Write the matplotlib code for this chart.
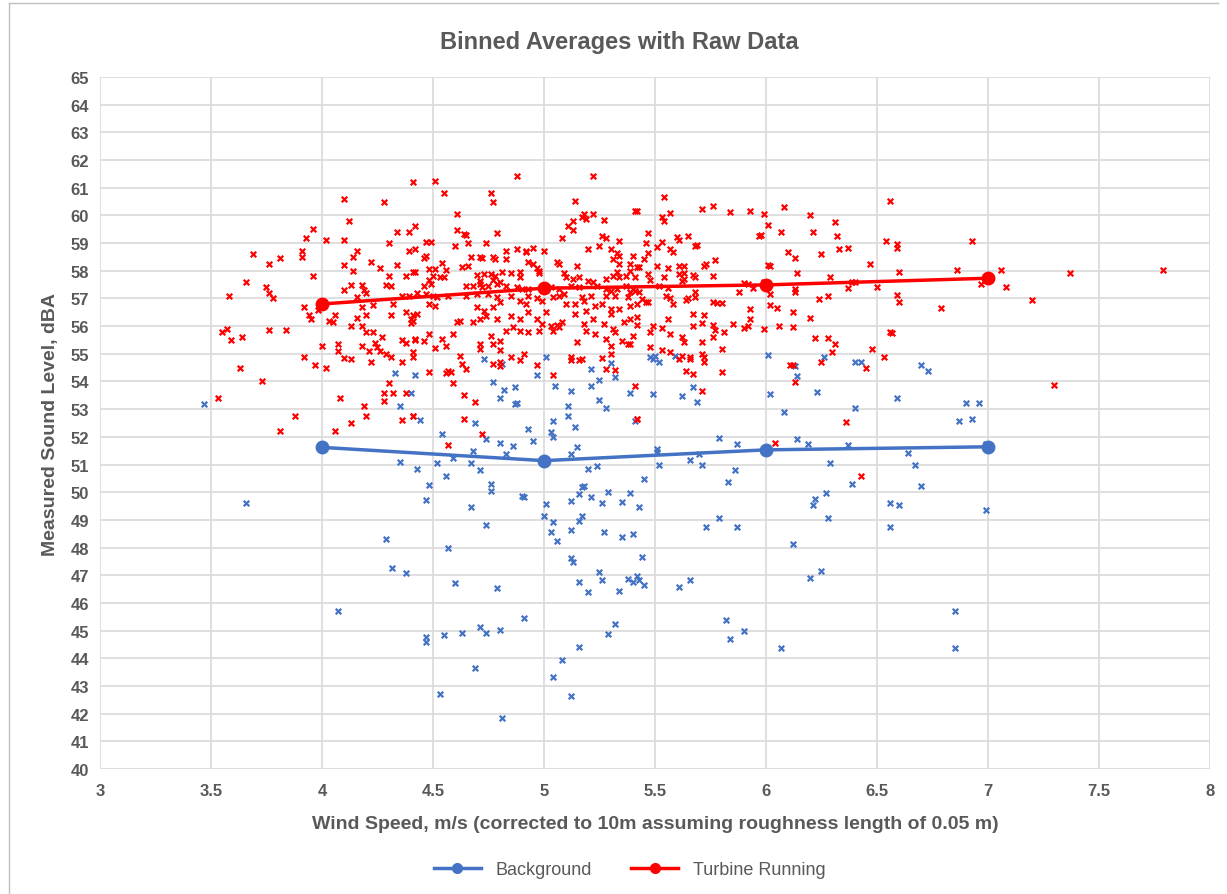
import matplotlib

matplotlib.use("Agg")
import matplotlib.pyplot as plt
from matplotlib.lines import Line2D
from matplotlib.ticker import FuncFormatter, MultipleLocator

plt.rcParams["font.family"] = ["Liberation Sans", "DejaVu Sans"]

# binned averages
bin_speed = [4, 5, 6, 7]
background_avg = [51.62, 51.14, 51.53, 51.64]
turbine_avg = [56.80, 57.37, 57.49, 57.73]

# raw readings (wind speed, dBA)
background_raw = [
    (3.47, 53.2), (4.33, 54.3), (4.42, 54.25), (4.4, 53.6), (4.35, 53.1), (4.44, 52.6),
    (4.35, 51.1), (4.43, 50.85), (3.66, 49.6), (4.29, 48.3), (4.54, 52.1), (4.48, 50.26),
    (4.47, 49.73), (4.52, 51.05), (4.59, 51.22), (4.56, 50.57), (4.68, 51.5), (4.67, 51.05),
    (4.71, 50.8), (4.77, 53.97), (4.82, 53.7), (4.8, 53.39), (4.87, 53.79), (4.88, 53.24),
    (4.87, 53.2), (4.74, 51.92), (4.8, 51.78), (4.86, 51.66), (4.83, 51.38), (4.69, 52.49),
    (4.76, 50.3), (4.76, 50.05), (4.9, 49.87), (4.91, 49.84), (4.67, 49.45), (4.74, 48.81),
    (4.57, 48.0), (4.93, 52.3), (4.95, 51.86), (4.97, 54.23), (5.05, 53.85), (5.03, 52.18),
    (5.04, 52.0), (5.04, 52.58), (5.11, 53.12), (5.11, 52.74), (5.14, 52.37), (5.12, 53.67),
    (5.21, 54.45), (5.21, 53.82), (5.25, 54.06), (5.3, 54.67), (5.32, 54.18), (5.25, 53.34),
    (5.28, 53.03), (5.39, 53.57), (5.41, 52.58), (5.15, 51.62), (5.12, 51.38), (5.2, 50.84),
    (5.24, 50.93), (5.01, 49.57), (5.0, 49.15), (5.04, 48.91), (5.03, 48.57), (5.06, 48.25),
    (5.12, 49.69), (5.16, 49.93), (5.17, 50.17), (5.18, 50.21), (5.21, 49.81), (5.17, 49.15),
    (5.16, 48.97), (5.12, 48.63), (5.26, 49.6), (5.29, 50.02), (5.35, 49.63), (5.39, 49.96),
    (5.43, 49.48), (5.27, 48.57), (5.35, 48.37), (5.4, 48.49), (5.52, 54.69), (5.49, 54.81),
    (5.49, 53.55), (5.62, 53.49), (5.67, 53.79), (5.69, 53.27), (5.51, 51.56), (5.51, 51.46),
    (5.52, 50.98), (5.66, 51.16), (5.7, 51.38), (5.71, 50.98), (5.79, 51.96), (5.87, 51.74),
    (5.86, 50.8), (5.83, 50.38), (5.45, 50.47), (5.73, 48.76), (5.79, 49.05), (5.87, 48.73),
    (6.02, 53.55), (6.08, 52.88), (6.13, 54.57), (6.14, 54.21), (6.23, 53.61), (6.14, 51.94),
    (6.19, 51.74), (6.29, 51.05), (6.37, 51.7), (6.39, 50.29), (6.4, 53.04), (6.21, 49.54),
    (6.22, 49.75), (6.27, 49.96), (6.28, 49.05), (6.12, 48.13), (6.4, 54.69), (6.43, 54.69),
    (6.7, 54.59), (6.73, 54.39), (6.59, 53.41), (6.9, 53.21), (6.96, 53.21), (6.87, 52.58),
    (6.93, 52.64), (6.99, 51.74), (6.64, 51.4), (6.67, 50.98), (6.7, 50.21), (6.56, 49.61),
    (6.6, 49.54), (6.99, 49.37), (6.56, 48.75), (5.48, 54.88), (5.5, 54.93), (5.59, 54.93),
    (6.01, 54.96), (6.26, 54.88), (4.73, 54.8), (4.81, 54.63), (5.01, 54.9), (4.315, 47.26),
    (4.38, 47.07), (4.07, 45.69), (4.6, 46.72), (4.79, 46.55), (4.47, 44.76), (4.47, 44.58),
    (4.55, 44.84), (4.63, 44.92), (4.71, 45.14), (4.74, 44.92), (4.8, 45.02), (4.91, 45.45),
    (4.69, 43.64), (4.53, 42.71), (4.81, 41.83), (5.12, 47.62), (5.13, 47.47), (5.16, 46.75),
    (5.2, 46.38), (5.25, 47.13), (5.26, 46.84), (5.34, 46.44), (5.38, 46.87), (5.4, 46.75),
    (5.42, 46.99), (5.43, 46.81), (5.44, 47.65), (5.32, 45.24), (5.29, 44.88), (5.16, 44.4),
    (5.08, 43.92), (5.04, 43.34), (5.12, 42.62), (5.45, 46.63), (5.61, 46.59), (5.66, 46.81),
    (5.82, 45.4), (5.84, 44.7), (5.9, 45.0), (6.07, 44.36), (6.2, 46.9), (6.25, 47.14),
    (6.85, 45.69), (6.85, 44.36),
]

turbine_raw = [
    # 3.5 - 4.45
    (3.58, 57.09), (3.69, 58.6), (3.76, 58.24), (3.81, 58.46), (3.66, 57.6), (3.75, 57.4),
    (3.76, 57.2), (3.78, 57.0), (3.55, 55.8), (3.57, 55.9), (3.59, 55.5), (3.64, 55.6),
    (3.76, 55.86), (3.84, 55.86), (3.63, 54.5), (3.91, 58.5), (3.91, 58.7), (3.93, 59.2),
    (3.96, 59.5), (3.96, 57.8), (3.92, 56.7), (3.94, 56.4), (3.95, 56.25), (3.92, 54.9),
    (3.97, 54.6), (3.98, 56.6), (4.02, 59.1), (4.1, 60.6), (4.28, 60.5), (4.41, 61.2),
    (4.12, 59.8), (4.1, 59.1), (4.16, 58.7), (4.14, 58.5), (4.1, 58.2), (4.14, 58.0),
    (4.22, 58.3), (4.26, 58.1), (4.3, 59.0), (4.34, 59.4), (4.39, 59.4), (4.42, 59.6),
    (4.34, 58.2), (4.39, 58.7), (4.42, 58.8), (4.3, 57.8), (4.29, 57.5), (4.31, 57.45),
    (4.38, 57.8), (4.42, 57.95), (4.1, 57.3), (4.13, 57.5), (4.18, 57.5), (4.19, 57.3),
    (4.16, 57.05), (4.2, 57.2), (4.18, 56.7), (4.23, 56.75), (4.32, 56.8), (4.36, 57.1),
    (4.39, 57.1), (4.43, 57.2), (4.03, 56.2), (4.05, 56.15), (4.06, 56.4), (4.13, 56.0),
    (4.16, 56.3), (4.2, 56.4), (4.18, 56.0), (4.2, 55.8), (4.23, 55.8), (4.31, 56.4),
    (4.38, 56.5), (4.41, 56.4), (4.4, 56.1), (4.41, 56.2), (4.07, 55.35), (4.07, 55.1),
    (4.0, 55.3), (4.18, 55.3), (4.21, 55.1), (4.24, 55.4), (4.25, 55.25), (4.27, 55.6),
    (4.26, 55.1), (4.29, 55.0), (4.31, 54.9), (4.36, 55.5), (4.38, 55.4), (4.42, 55.5),
    (4.41, 55.05), (4.41, 54.9), (4.36, 54.7), (4.1, 54.85), (4.13, 54.8), (4.22, 54.7),
    (4.02, 54.5), (3.73, 54.0), (3.53, 53.4), (3.88, 52.75), (3.81, 52.2), (4.08, 53.4),
    (4.06, 52.2), (4.13, 52.5), (4.19, 53.1), (4.2, 52.75), (4.28, 53.6), (4.32, 53.6),
    (4.28, 53.3), (4.3, 53.95), (4.36, 52.6), (4.38, 53.6), (4.41, 52.75),
    # 4.4 - 5.45
    (4.51, 61.26), (4.88, 61.41), (5.22, 61.41), (4.55, 60.8), (4.76, 60.8), (4.77, 60.47),
    (5.14, 60.51), (5.41, 60.15), (4.61, 60.05), (5.11, 59.6), (5.13, 59.8), (5.17, 59.93),
    (5.18, 60.05), (5.19, 59.87), (5.22, 60.05), (5.27, 59.83), (5.13, 59.47), (4.61, 59.47),
    (4.64, 59.33), (4.65, 59.3), (4.79, 59.35), (5.08, 59.18), (5.26, 59.24), (5.28, 59.17),
    (5.34, 59.06), (4.47, 59.05), (4.49, 59.05), (4.6, 58.88), (4.66, 59.0), (4.74, 58.99),
    (4.83, 58.73), (4.88, 58.79), (4.92, 58.73), (4.95, 58.82), (5.0, 58.73), (5.2, 58.79),
    (5.25, 58.91), (5.3, 58.79), (5.33, 58.64), (5.34, 58.55), (5.31, 58.43), (5.4, 58.55),
    (4.46, 58.45), (4.47, 58.52), (4.67, 58.49), (4.71, 58.49), (4.72, 58.45), (4.77, 58.49),
    (4.78, 58.43), (4.83, 58.43), (4.92, 58.67), (4.93, 58.33), (4.95, 58.25), (4.97, 58.09),
    (4.98, 58.0), (4.98, 57.92), (5.06, 58.3), (5.07, 58.25), (5.15, 58.16), (5.34, 58.25),
    (5.33, 57.97), (5.39, 58.25), (5.43, 58.12), (4.41, 57.97), (4.48, 58.06), (4.51, 58.06),
    (4.54, 58.28), (4.56, 58.04), (4.63, 58.12), (4.66, 58.16), (4.7, 57.85), (4.73, 57.88),
    (4.76, 57.88), (4.78, 57.82), (4.81, 57.97), (4.85, 57.92), (4.89, 57.97), (4.48, 57.68),
    (4.5, 57.82), (4.53, 57.79), (4.55, 57.79), (4.71, 57.64), (4.77, 57.68), (4.8, 57.58),
    (4.89, 57.76), (5.09, 57.92), (5.1, 57.76), (5.13, 57.7), (5.16, 57.76), (5.2, 57.64),
    (5.22, 57.61), (5.28, 57.7), (5.31, 57.82), (5.34, 57.76), (5.37, 57.82), (5.39, 58.0),
    (4.46, 57.46), (4.49, 57.52), (4.65, 57.46), (4.68, 57.46), (4.71, 57.52), (4.72, 57.4),
    (4.75, 57.46), (4.79, 57.52), (4.83, 57.46), (4.88, 57.4), (4.9, 57.34), (4.93, 57.34),
    (5.03, 57.4), (5.07, 57.34), (5.12, 57.46), (5.16, 57.4), (5.24, 57.46), (5.28, 57.34),
    (5.3, 57.28), (5.33, 57.34), (5.37, 57.46), (5.4, 57.34), (5.43, 57.22), (4.47, 57.16),
    (4.5, 57.1), (4.52, 57.04), (4.57, 57.1), (4.65, 57.1), (4.7, 57.16), (4.75, 57.16),
    (4.79, 57.04), (4.85, 57.1), (4.93, 57.1), (4.97, 57.0), (5.04, 57.04), (5.07, 57.1),
    (5.09, 57.16), (5.17, 57.04), (5.21, 57.1), (5.28, 57.1), (5.32, 57.1), (5.38, 57.04),
    (4.48, 56.8), (4.51, 56.74), (4.43, 56.44), (4.4, 56.26), (4.7, 56.68), (4.73, 56.56),
    (4.77, 56.68), (4.8, 56.86), (4.89, 56.92), (4.92, 56.8), (4.99, 56.92), (5.01, 56.52),
    (5.1, 56.8), (5.14, 56.8), (5.18, 56.92), (5.19, 56.56), (5.23, 56.74), (5.26, 56.8),
    (5.3, 56.62), (5.34, 56.62), (5.39, 56.74), (5.42, 56.8), (4.61, 56.16), (4.62, 56.2),
    (4.68, 56.16), (4.71, 56.26), (4.74, 56.38), (4.79, 56.26), (4.85, 56.38), (4.89, 56.26),
    (4.93, 56.5), (4.97, 56.26), (4.99, 56.08), (5.03, 56.02), (5.06, 56.04), (5.08, 56.16),
    (5.14, 56.44), (5.18, 56.08), (5.22, 56.26), (5.27, 56.08), (5.3, 56.44), (5.31, 55.9),
    (5.36, 56.14), (5.39, 56.26), (5.42, 56.04), (4.48, 55.72), (4.54, 55.54), (4.59, 55.72),
    (4.42, 55.54), (4.46, 55.48), (4.51, 55.2), (4.56, 55.3), (4.76, 55.66), (4.8, 55.48),
    (4.83, 55.84), (4.86, 55.96), (4.89, 55.84), (4.93, 55.78), (4.98, 55.84), (5.04, 55.84),
    (5.07, 55.96), (5.15, 55.44), (5.19, 55.84), (5.23, 55.72), (5.28, 55.54), (5.3, 55.3),
    (5.32, 55.78), (5.35, 55.48), (5.38, 55.36), (5.4, 55.66), (4.71, 55.36), (4.71, 55.18),
    (4.77, 55.36), (4.8, 55.12), (4.62, 54.93), (4.8, 54.69), (4.85, 54.87), (4.91, 54.99),
    (4.97, 54.6), (5.12, 54.87), (5.17, 54.81), (5.26, 54.84), (5.3, 54.99), (4.48, 54.35),
    (4.57, 54.39), (4.58, 54.33), (4.56, 54.3), (4.63, 54.63), (4.65, 54.45), (4.59, 53.94),
    (4.64, 53.52), (4.69, 53.27), (4.41, 52.74), (4.64, 52.64), (4.72, 52.1), (4.57, 51.7),
    (4.77, 54.63), (4.8, 54.57), (4.89, 54.79), (5.04, 54.23), (5.28, 54.45), (5.32, 54.42),
    (5.42, 52.64), (5.12, 54.79), (5.16, 54.79),
    # 5.4 - 6.45
    (5.54, 60.65), (5.42, 60.17), (5.71, 60.23), (5.76, 60.33), (5.84, 60.11), (5.93, 60.17),
    (5.99, 60.05), (6.08, 60.29), (6.2, 60.03), (6.31, 59.77), (5.53, 59.96), (5.54, 59.81),
    (5.57, 60.08), (6.01, 59.67), (5.47, 59.35), (5.46, 59.0), (5.53, 59.03), (5.51, 58.85),
    (5.6, 59.21), (5.61, 59.12), (5.65, 59.24), (5.97, 59.24), (5.98, 59.29), (6.07, 59.39),
    (6.21, 59.39), (6.32, 59.24), (5.68, 58.91), (5.69, 58.93), (5.57, 58.79), (5.58, 58.69),
    (5.47, 58.64), (5.45, 58.43), (5.72, 58.16), (5.73, 58.25), (5.77, 58.39), (6.1, 58.69),
    (6.13, 58.45), (6.25, 58.61), (6.33, 58.79), (6.37, 58.81), (5.42, 58.12), (5.51, 58.16),
    (5.56, 58.09), (5.61, 58.19), (5.63, 58.16), (6.01, 58.21), (6.02, 58.16), (5.41, 57.76),
    (5.47, 57.88), (5.48, 57.67), (5.54, 57.76), (5.61, 57.88), (5.63, 57.92), (5.67, 57.85),
    (5.68, 57.76), (5.76, 57.82), (5.62, 57.64), (5.63, 57.7), (6.14, 57.92), (6.29, 57.79),
    (5.52, 57.46), (5.56, 57.37), (5.39, 57.22), (5.41, 57.28), (5.9, 57.56), (5.92, 57.52),
    (5.94, 57.37), (5.99, 57.58), (5.88, 57.25), (6.02, 57.16), (6.13, 57.34), (6.13, 57.25),
    (6.37, 57.37), (6.39, 57.61), (5.44, 56.98), (5.46, 56.88), (5.47, 56.88), (5.55, 57.1),
    (5.57, 57.0), (5.58, 56.8), (5.64, 56.94), (5.65, 57.0), (5.68, 57.22), (5.68, 57.04),
    (5.76, 56.88), (5.78, 56.84), (5.8, 56.84), (6.24, 56.98), (6.28, 57.1), (6.02, 56.76),
    (6.05, 56.64), (6.12, 56.5), (5.93, 56.62), (5.93, 56.26), (5.42, 56.32), (5.56, 56.24),
    (5.67, 56.44), (5.72, 56.4), (5.71, 56.11), (5.76, 56.04), (5.77, 55.87), (5.81, 55.8),
    (5.85, 56.08), (6.2, 56.3), (6.06, 56.02), (6.12, 55.98), (5.99, 55.9), (5.9, 55.93),
    (5.92, 56.02), (5.49, 56.02), (5.48, 55.78), (5.53, 55.93), (5.62, 55.6), (5.63, 55.42),
    (5.57, 55.72), (5.67, 56.02), (5.76, 55.6), (5.39, 55.36), (5.48, 55.26), (5.71, 55.42),
    (5.8, 55.18), (6.22, 55.56), (6.28, 55.57), (6.31, 55.36), (6.3, 55.05), (5.53, 55.12),
    (5.57, 55.08), (5.62, 54.93), (5.66, 54.87), (5.71, 54.99), (5.72, 54.87), (6.12, 54.6),
    (5.61, 54.81), (5.66, 54.81), (5.72, 54.71), (5.64, 54.39), (5.67, 54.27), (5.8, 54.35),
    (5.71, 53.67), (5.41, 53.85), (5.42, 52.64), (6.11, 54.59), (6.13, 53.99), (6.25, 54.69),
    (6.36, 52.55), (6.04, 51.77), (6.43, 50.57),
    # 6.4 and up
    (6.56, 60.53), (6.54, 59.06), (6.59, 58.97), (6.59, 58.81), (6.93, 59.09), (6.47, 58.25),
    (6.6, 57.94), (6.86, 58.03), (7.06, 58.03), (7.37, 57.92), (7.79, 58.03), (6.4, 57.6),
    (6.5, 57.4), (6.97, 57.52), (7.08, 57.4), (6.59, 57.14), (6.6, 56.86), (6.79, 56.66),
    (7.2, 56.95), (6.56, 55.8), (6.57, 55.74), (6.48, 55.17), (6.53, 54.87), (6.45, 54.5),
    (7.3, 53.87),
]

x_ticks = [3, 3.5, 4, 4.5, 5, 5.5, 6, 6.5, 7, 7.5, 8]

BLUE = "#4472C4"
RED = "#FF0000"
GRAY = "#595959"
GRID = "#D9D9D9"

fig = plt.figure(figsize=(12.27, 8.95), dpi=100)
ax = fig.add_axes([0.0815, 0.1397, 0.9045, 0.7731])

bx, by = zip(*background_raw)
tx, ty = zip(*turbine_raw)
ax.scatter(bx, by, marker="x", s=16, color=BLUE, linewidths=1.6, zorder=3)
ax.scatter(tx, ty, marker="x", s=16, color=RED, linewidths=1.6, zorder=3)

ax.plot(bin_speed, background_avg, color=BLUE, lw=2.5, marker="o", ms=9, zorder=4)
ax.plot(bin_speed, turbine_avg, color=RED, lw=2.5, marker="o", ms=9, zorder=4)

ax.set_xlim(3, 8)
ax.set_ylim(40, 65)
ax.set_xticks(x_ticks)
ax.yaxis.set_major_locator(MultipleLocator(1))
ax.xaxis.set_major_formatter(FuncFormatter(lambda v, _: f"{v:g}"))
ax.grid(True, color=GRID, lw=1.2, zorder=0)
ax.set_axisbelow(True)
for s in ax.spines.values():
    s.set_visible(False)
ax.tick_params(length=0, labelsize=12, labelcolor=GRAY)
ax.tick_params(axis="x", pad=10)
ax.tick_params(axis="y", pad=8)
for lab in ax.get_xticklabels() + ax.get_yticklabels():
    lab.set_fontweight("bold")

ax.set_xlabel("Wind Speed, m/s (corrected to 10m assuming roughness length of 0.05 m)",
              fontsize=14, fontweight="bold", color=GRAY, labelpad=12)
ax.set_ylabel("Measured Sound Level, dBA", fontsize=14, fontweight="bold", color=GRAY, labelpad=8)

fig.text(0.505, 0.953, "Binned Averages with Raw Data", ha="center", va="center",
         fontsize=17, fontweight="bold", color=GRAY)

handles = [
    Line2D([], [], color=BLUE, lw=2.5, marker="o", ms=7),
    Line2D([], [], color=RED, lw=2.5, marker="o", ms=7),
]
fig.legend(handles, ["Background", "Turbine Running"], loc="center", bbox_to_anchor=(0.513, 0.027),
           ncol=2, frameon=False, fontsize=13, labelcolor=GRAY, handlelength=2.6, columnspacing=2.2)

# chart frame
fig.add_artist(Line2D([0.007, 0.007], [0.0, 0.995], transform=fig.transFigure, color="#BFBFBF", lw=1))
fig.add_artist(Line2D([0.007, 0.993], [0.995, 0.995], transform=fig.transFigure, color="#BFBFBF", lw=1))

fig.savefig("out.png", dpi=100)
